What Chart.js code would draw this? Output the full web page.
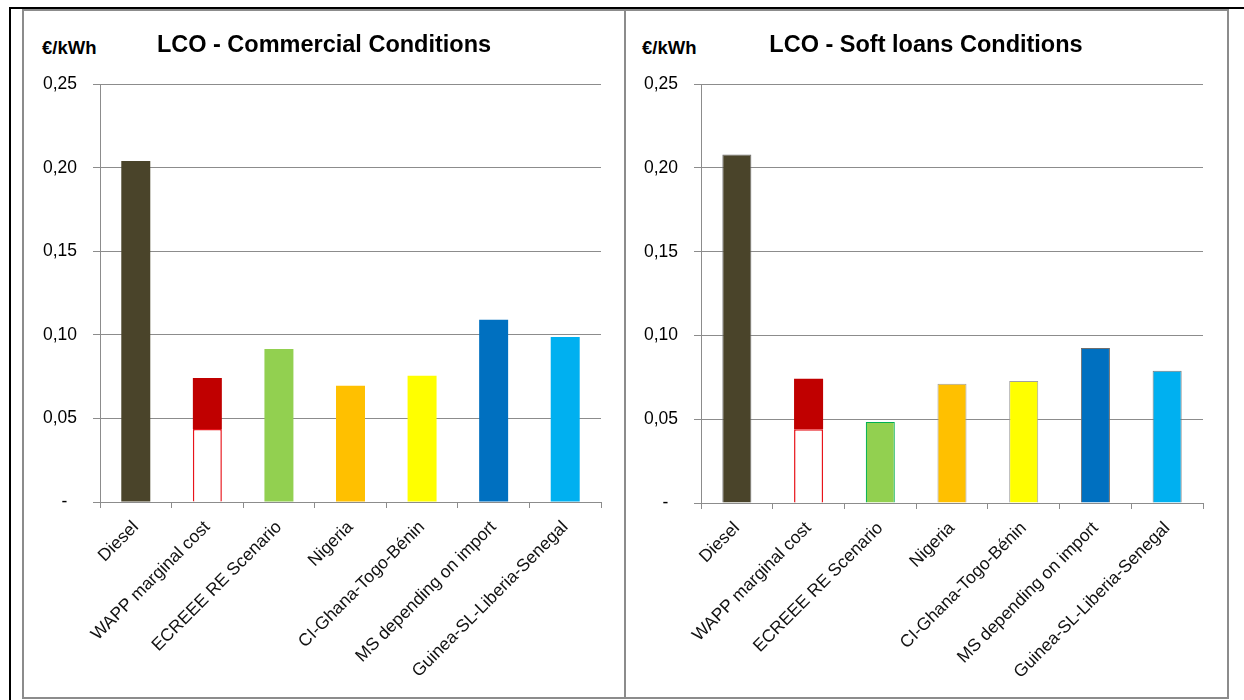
<!DOCTYPE html>
<html>
<head>
<meta charset="utf-8">
<script src="https://cdn.jsdelivr.net/npm/chart.js@4.4.1/dist/chart.umd.min.js"></script>
<style>
  html, body { margin: 0; padding: 0; background: #ffffff; }
  body { width: 1244px; height: 700px; position: relative; overflow: hidden; }
  .black-top { position: absolute; left: 9px; top: 7px; width: 1235px; height: 2px; background: #000; }
  .black-left { position: absolute; left: 9px; top: 7px; width: 2px; height: 693px; background: #000; }
  .panel { position: absolute; top: 9px; height: 690px; border: 2px solid #8c8c8c; box-sizing: border-box; background: #fff; }
  .unit { position: absolute; font: bold 18.5px "Liberation Sans", Arial, sans-serif; line-height: 20px; color: #000; top: 38px; }
  canvas { position: absolute; top: 11px; }
</style>
</head>
<body>
<div class="black-top"></div>
<div class="black-left"></div>
<div class="panel" style="left:22px; width:604px;"></div>
<div class="panel" style="left:624px; width:605px;"></div>
<div class="unit" style="left:42px;">€/kWh</div>
<div class="unit" style="left:642px;">€/kWh</div>
<canvas id="c1" width="598" height="685" style="left:25px;"></canvas>
<canvas id="c2" width="598" height="685" style="left:627px;"></canvas>
<script>
// ---- data ----
const categories = ['Diesel', 'WAPP marginal cost', 'ECREEE RE Scenario', 'Nigeria',
  'CI-Ghana-Togo-Bénin', 'MS depending on import', 'Guinea-SL-Liberia-Senegal'];
const commercialLCO = [0.204, 0.0742, 0.0915, 0.0695, 0.0755, 0.109, 0.0987];
const commercialBase = [null, 0.0437, null, null, null, null, null];
const softLoanLCO = [0.208, 0.0742, 0.0484, 0.0712, 0.0728, 0.0925, 0.079];
const softLoanBase = [null, 0.0440, null, null, null, null, null];
const yTickValues = [0, 0.05, 0.10, 0.15, 0.20, 0.25];
const titles = ['LCO - Commercial Conditions', 'LCO - Soft loans Conditions'];

// ---- styles ----
const fillColors = ['#4A442A', '#FFFFFF', '#92D050', '#FFC000', '#FFFF00', '#0070C0', '#00B0F0'];
const upperColor = '#C00000';
const borderColorsLeft = ['#4A442A', '#E8141B', '#92D050', '#FFC000', '#FFFF00', '#0070C0', '#00B0F0'];
const borderWidthsLeft = [0, 1.5, 0, 0, 0, 0, 0];
const borderColorsRight = ['#6E6E6E', '#E8141B', '#00B050', '#A0A0A0', '#A0A0A0', '#6E6E6E', '#7A7A7A'];
const borderWidthsRight = [1, 1.5, 1.2, 1, 1, 1, 1];
const axisGray = '#8C8C8C';
const FONT = '"Liberation Sans", Arial, sans-serif';

function makeChart(id, title, totals, bases, borderColors, borderWidths, yWidth, xHeight) {
  const lower = totals.map((v, i) => bases[i] != null ? bases[i] : v);
  const upper = totals.map((v, i) => bases[i] != null ? +(v - bases[i]).toFixed(4) : null);
  return new Chart(document.getElementById(id), {
    type: 'bar',
    data: {
      labels: categories,
      datasets: [
        {
          data: lower,
          backgroundColor: fillColors,
          borderColor: borderColors,
          borderWidth: borderWidths,
          barPercentage: 0.405,
          categoryPercentage: 1.0
        },
        {
          data: upper,
          backgroundColor: upperColor,
          borderWidth: 0,
          barPercentage: 0.405,
          categoryPercentage: 1.0
        }
      ]
    },
    options: {
      responsive: false,
      animation: false,
      layout: { padding: { left: 0, right: 0, top: 0, bottom: 0 } },
      plugins: {
        legend: { display: false },
        tooltip: { enabled: false },
        title: {
          display: true,
          text: title,
          color: '#000',
          font: { family: FONT, size: 23.5, weight: 'bold', lineHeight: 1.2 },
          padding: { top: 20, bottom: 25 }
        }
      },
      scales: {
        x: {
          stacked: true,
          grid: { display: true, drawOnChartArea: false, drawTicks: true, tickLength: 6, color: axisGray, offset: true },
          border: { display: true, color: axisGray, width: 1 },
          ticks: {
            autoSkip: false, maxRotation: 45, minRotation: 45, padding: 9,
            color: '#111', font: { family: FONT, size: 17.5 }
          },
          afterFit: (s) => { s.height = xHeight; }
        },
        y: {
          stacked: true,
          min: 0, max: 0.25,
          afterBuildTicks: (s) => { s.ticks = yTickValues.map(v => ({ value: v })); },
          grid: { color: axisGray, lineWidth: 1, drawTicks: true, tickLength: 7 },
          border: { display: true, color: axisGray, width: 1 },
          ticks: {
            padding: 16,
            color: '#000',
            font: { family: FONT, size: 17.5 },
            callback: (v) => v === 0 ? '-\u2007' : Number(v).toFixed(2).replace('.', ',')
          },
          afterFit: (s) => { s.width = yWidth; }
        },
        yR: {
          type: 'linear',
          position: 'right',
          display: true,
          grid: { display: false, drawTicks: false },
          border: { display: false },
          ticks: { display: false },
          afterFit: (s) => { s.width = 22; }
        }
      }
    }
  });
}

makeChart('c1', titles[0], commercialLCO, commercialBase, borderColorsLeft, borderWidthsLeft, 75, 194);
makeChart('c2', titles[1], softLoanLCO, softLoanBase, borderColorsRight, borderWidthsRight, 74, 193);
</script>
</body>
</html>
